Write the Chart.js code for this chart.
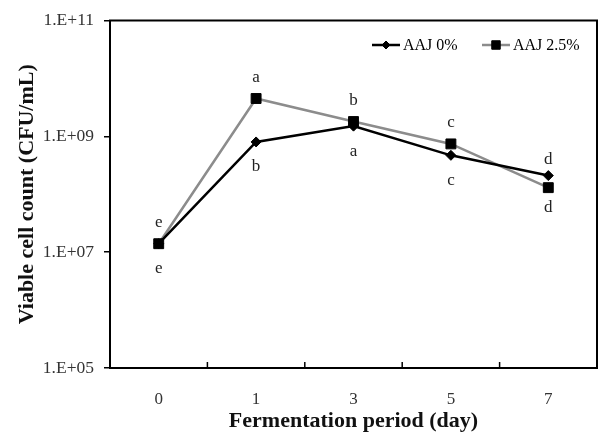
<!DOCTYPE html>
<html>
<head>
<meta charset="utf-8">
<script src="https://cdn.jsdelivr.net/npm/chart.js@4"></script>
<style>
  html, body { margin: 0; padding: 0; background: #fff; }
  #wrap { width: 605px; height: 435px; }
</style>
</head>
<body>
<div id="wrap"><canvas id="cellChart" width="605" height="435"></canvas></div>
<script>
// fermentation days
const days = ["0", "1", "3", "5", "7"];
// viable cell counts (CFU/mL)
const aaj0 = [1.4e7, 8.0e8, 1.5e9, 4.7e8, 2.1e8];
const aaj25 = [1.4e7, 4.5e9, 1.8e9, 7.4e8, 1.3e8];
// significance letters
const letters0 = ["e", "b", "a", "c", "d"];
const letters25 = ["e", "a", "b", "c", "d"];
const yTicks = [1e5, 1e7, 1e9, 1e11];

const serif = "'Liberation Serif', 'Times New Roman', serif";

function sci(v) {
  const e = Math.round(Math.log10(v));
  return "1.E+" + String(e).padStart(2, "0");
}

const extras = {
  id: "extras",
  afterDatasetsDraw(chart) {
    const { ctx, chartArea: a, scales: { x, y } } = chart;
    ctx.save();
    // frame
    ctx.strokeStyle = "#000";
    ctx.lineWidth = 2;
    ctx.strokeRect(a.left, a.top, a.right - a.left, a.bottom - a.top);

    // x ticks between categories, inside
    ctx.lineWidth = 1.5;
    for (let i = 0; i < days.length - 1; i++) {
      const px = (x.getPixelForValue(i) + x.getPixelForValue(i + 1)) / 2;
      ctx.beginPath();
      ctx.moveTo(px, a.bottom);
      ctx.lineTo(px, a.bottom - 6);
      ctx.stroke();
    }

    // letters: 2.5% above, 0% below (swapped at day 7)
    ctx.font = "17px " + serif;
    ctx.fillStyle = "#222";
    ctx.textAlign = "center";
    ctx.textBaseline = "middle";
    days.forEach((d, i) => {
      const px = x.getPixelForValue(i);
      const y0 = y.getPixelForValue(aaj0[i]);
      const y25 = y.getPixelForValue(aaj25[i]);
      const zeroAbove = aaj0[i] > aaj25[i];
      ctx.fillText(letters25[i], px, zeroAbove ? y25 + 20 : y25 - 21);
      ctx.fillText(letters0[i], px, zeroAbove ? y0 - 16 : y0 + 25);
    });

    // legend
    const ly = 45;
    const items = [
      { ds: chart.data.datasets[0], x0: 372 },
      { ds: chart.data.datasets[1], x0: 482 }
    ];
    ctx.textAlign = "left";
    ctx.font = "16px " + serif;
    items.forEach(it => {
      ctx.strokeStyle = it.ds.borderColor;
      ctx.lineWidth = 2.5;
      ctx.beginPath();
      ctx.moveTo(it.x0, ly);
      ctx.lineTo(it.x0 + 28, ly);
      ctx.stroke();
      ctx.fillStyle = "#000";
      ctx.strokeStyle = "#000";
      ctx.lineWidth = 1;
      Chart.helpers.drawPoint(ctx, {
        pointStyle: it.ds.pointStyle,
        radius: it.ds.pointRadius - 1,
        borderWidth: 1
      }, it.x0 + 14, ly);
      ctx.fillText(it.ds.label, it.x0 + 31, ly + 1);
    });
    ctx.restore();
  }
};

new Chart(document.getElementById("cellChart"), {
  type: "line",
  data: {
    labels: days,
    datasets: [
      {
        label: "AAJ 0%",
        data: aaj0,
        borderColor: "#000",
        backgroundColor: "#000",
        borderWidth: 2.5,
        pointStyle: "rectRot",
        pointRadius: 5,
        pointBackgroundColor: "#000",
        pointBorderColor: "#000",
        pointBorderWidth: 1,
        tension: 0
      },
      {
        label: "AAJ 2.5%",
        data: aaj25,
        borderColor: "#8c8c8c",
        backgroundColor: "#000",
        borderWidth: 2.5,
        pointStyle: "rect",
        pointRadius: 7,
        pointBackgroundColor: "#000",
        pointBorderColor: "#000",
        pointBorderWidth: 1,
        tension: 0
      }
    ]
  },
  options: {
    responsive: false,
    animation: false,
    layout: { padding: { top: 16, right: 2, left: 0, bottom: 0 } },
    plugins: {
      legend: { display: false },
      tooltip: { enabled: false }
    },
    scales: {
      x: {
        offset: true,
        grid: { display: false, drawTicks: false },
        border: { color: "#000", width: 2 },
        ticks: { color: "#333", font: { family: serif, size: 17 }, padding: 21 },
        title: {
          display: true,
          text: "Fermentation period (day)",
          color: "#111",
          font: { family: serif, size: 22, weight: "bold" },
          padding: { top: 0, bottom: 0 }
        },
        afterFit(scale) { scale.height = 67; }
      },
      y: {
        type: "logarithmic",
        min: 1e5,
        max: 1e11,
        afterBuildTicks(scale) { scale.ticks = yTicks.map(v => ({ value: v })); },
        grid: { drawOnChartArea: false, tickLength: 6, color: "#000", lineWidth: 1.5 },
        border: { color: "#000", width: 2 },
        ticks: {
          color: "#333",
          font: { family: serif, size: 17.5 },
          padding: 10,
          callback: v => sci(v)
        },
        title: {
          display: true,
          text: "Viable cell count (CFU/mL)",
          color: "#111",
          font: { family: serif, size: 22, weight: "bold" },
          padding: { top: 14, bottom: 0 }
        },
        afterFit(scale) { scale.width = 110; }
      }
    }
  },
  plugins: [extras]
});
</script>
</body>
</html>
